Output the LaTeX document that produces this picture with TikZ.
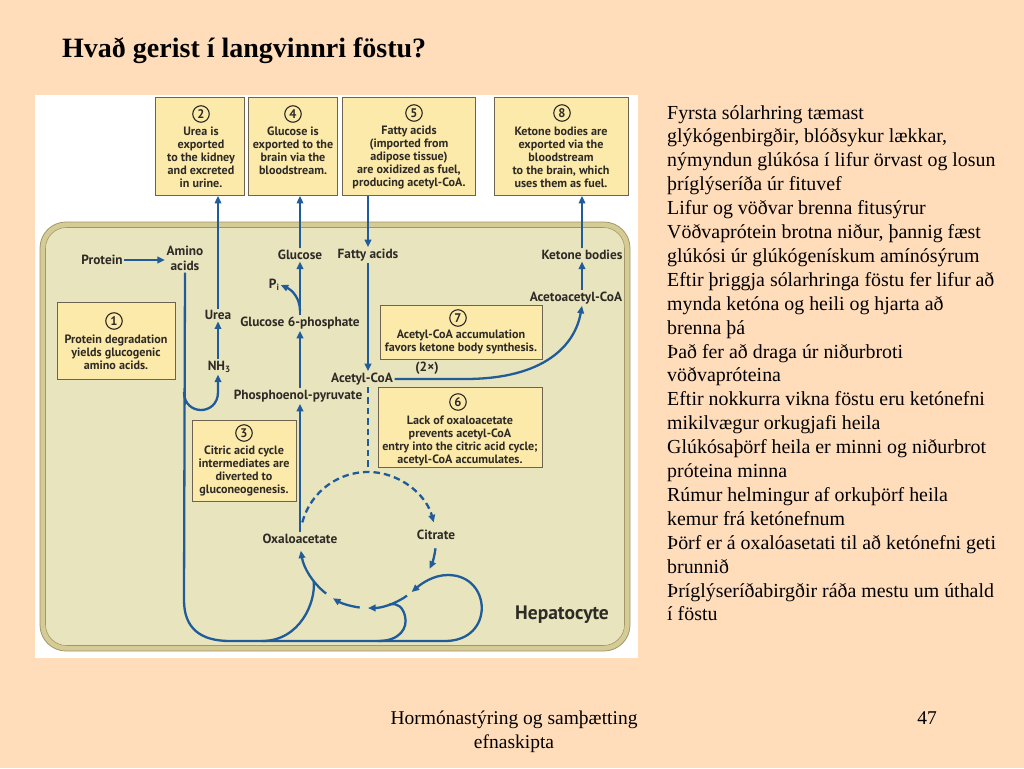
\documentclass[tikz,border=0pt]{standalone}
\usepackage{fontspec}
\setmainfont{Liberation Serif}
\newfontfamily\dfont{PT Sans}
\usetikzlibrary{arrows.meta,calc}

\definecolor{peach}{HTML}{FFDDBB}
\definecolor{cellfill}{HTML}{E8E5BE}
\definecolor{cellrim}{HTML}{D5CB95}
\definecolor{celledge}{HTML}{A3976A}
\definecolor{boxfill}{HTML}{FBEAA9}
\definecolor{boxedge}{HTML}{6E6250}
\definecolor{flow}{HTML}{1F5C99}
\definecolor{ink}{HTML}{2E2A26}

\newcommand{\mysub}[1]{\raisebox{-0.35ex}{\fontsize{9}{9}\selectfont #1}}

\tikzset{
  lbl/.style={font=\dfont\bfseries\fontsize{13.3}{15}\selectfont, text=ink, inner sep=1.5pt},
  infobox/.style={draw=boxedge, fill=boxfill, line width=0.9pt, inner sep=0pt, anchor=north west},
  boxtext/.style={font=\dfont\bfseries\fontsize{12.1}{13}\selectfont, text=ink, align=center, inner sep=0pt},
  numcirc/.style={circle, draw=ink, line width=1.1pt, minimum size=16.5pt, inner sep=0pt,
                  font=\dfont\bfseries\fontsize{12.5}{12.5}\selectfont, text=ink},
  arr/.style={draw=flow, line width=2.3pt, -{Triangle[length=7.5pt,width=6.5pt]}},
  ln/.style={draw=flow, line width=2.3pt},
  dsh/.style={draw=flow, line width=2.3pt, dash pattern=on 6.5pt off 4pt},
  rtext/.style={font=\fontsize{19.9}{23.9}\selectfont, anchor=base west, inner sep=0pt},
  foot/.style={font=\fontsize{19.5}{22}\selectfont, anchor=base, inner sep=0pt},
}

\begin{document}
\begin{tikzpicture}[x=1pt,y=-1pt]
\useasboundingbox (0,0) rectangle (1024,768);
\fill[peach] (0,0) rectangle (1024,768);

% title
\node[font=\bfseries\fontsize{28}{30}\selectfont, anchor=base west, inner sep=0pt] (title) at (62,57) {Hvað gerist í langvinnri föstu?};

% figure background
\fill[white] (34.5,94.5) rectangle (638,658);

% hepatocyte
\draw[fill=cellrim, draw=celledge, line width=0.8pt, rounded corners=26pt] (40,222) rectangle (630,651);
\draw[fill=cellfill, draw=celledge, line width=0.6pt, rounded corners=21pt] (45.5,227.5) rectangle (624.5,645.5);

% top boxes
\node[infobox, minimum width=89pt, minimum height=98pt] (b2) at (155,97) {};
\node[numcirc] (n2) at (201,114) {2};
\node[boxtext] (t2) at (201,157.5) {Urea is\\exported\\to the kidney\\and excreted\\in urine.};

\node[infobox, minimum width=89pt, minimum height=98pt] (b4) at (248,97) {};
\node[numcirc] (n4) at (293,114) {4};
\node[boxtext] (t4) at (293,151) {Glucose is\\exported to the\\brain via the\\bloodstream.};

\node[infobox, minimum width=133pt, minimum height=98pt] (b5) at (342,97) {};
\node[numcirc] (n5) at (414,113) {5};
\node[boxtext] (t5) at (409,157.5) {Fatty acids\\(imported from\\adipose tissue)\\are oxidized as fuel,\\producing acetyl-CoA.};

\node[infobox, minimum width=134pt, minimum height=98pt] (b8) at (494,97) {};
\node[numcirc] (n8) at (562,113) {8};
\node[boxtext] (t8) at (561,157.5) {Ketone bodies are\\exported via the\\bloodstream\\to the brain, which\\uses them as fuel.};

% inner boxes
\node[infobox, minimum width=118pt, minimum height=77pt] (b1) at (57,302) {};
\node[numcirc] (n1) at (114,321) {1};
\node[boxtext] (t1) at (116,352.5) {Protein degradation\\yields glucogenic\\amino acids.};

\node[infobox, minimum width=104pt, minimum height=81pt] (b3) at (192,420) {};
\node[numcirc] (n3) at (244,433) {3};
\node[boxtext] (t3) at (244,471) {Citric acid cycle\\intermediates are\\diverted to\\gluconeogenesis.};

\node[infobox, minimum width=162pt, minimum height=54pt] (b7) at (380,305) {};
\node[numcirc] (n7) at (458,318) {7};
\node[boxtext] (t7) at (461,341.5) {Acetyl-CoA accumulation\\favors ketone body synthesis.};

\node[infobox, minimum width=164pt, minimum height=80pt] (b6) at (378,387) {};
\node[numcirc] (n6) at (458,402) {6};
\node[boxtext] (t6) at (460,440.5) {Lack of oxaloacetate\\prevents acetyl-CoA\\entry into the citric acid cycle;\\acetyl-CoA accumulates.};

% labels
\node[lbl] (protein) at (102,260) {Protein};
\node[lbl, align=center] (amino) at (185,258.5) {Amino\\acids};
\node[lbl] (urea) at (218,315) {Urea};
\node[lbl] (nh3) at (219,367) {NH\mysub{3}};
\node[lbl] (glucose) at (300,255) {Glucose};
\node[lbl] (pi) at (274,285) {P\mysub{i}};
\node[lbl] (g6p) at (300,323) {Glucose 6-phosphate};
\node[lbl] (pep) at (298,396) {Phosphoenol-pyruvate};
\node[lbl] (fatty) at (368,255) {Fatty acids};
\node[lbl] (acoa) at (362,379) {Acetyl-CoA};
\node[lbl] (ketone) at (582,255) {Ketone bodies};
\node[lbl] (acac) at (576,298) {Acetoacetyl-CoA};
\node[lbl] (twox) at (427,368) {(2×)};
\node[lbl] (oaa) at (300,539) {Oxaloacetate};
\node[lbl] (cit) at (436,535) {Citrate};
\node[font=\dfont\bfseries\fontsize{19.5}{19.5}\selectfont, text=ink, inner sep=0pt] (hep) at (562,615) {Hepatocyte};

\coordinate (C) at (368,540);

% connectors
\draw[arr] (protein.east) -- (protein.east -| amino.west);
\draw[arr] (urea.north) -- (urea.north |- b2.south);
\draw[arr] (nh3.north -| urea.south) -- (urea.south);
\draw[arr] (184,392) .. controls (184,416) and (218,416) .. (218,392) -- (nh3.south -| urea.south);
\draw[arr] (glucose.north) -- (glucose.north |- b4.south);
\draw[arr] (g6p.north) -- (glucose.south);
\draw[arr] (300,311) .. controls (300,298) and (292,290) .. (pi.east);
\draw[arr] (pep.north -| g6p.south) -- (g6p.south);
\draw[arr] (oaa.north) -- (oaa.north |- pep.south);
\draw[arr] (b5.south -| fatty.north) -- (fatty.north);
\draw[arr] (fatty.south) -- (fatty.south |- acoa.north);
\draw[arr] (ketone.north) -- (ketone.north |- b8.south);
\draw[arr] (acac.north -| ketone.south) -- (ketone.south);
\draw[arr] (acoa.east) -- (465,379) .. controls (545,379) and (575,345) .. (acac.south -| ketone.south);
\draw[dsh] (acoa.south -| fatty.south) -- (368,472);

% cycle
\draw[dsh, -{Triangle[length=7.5pt,width=6.5pt]}] ($(C)+(165:68pt)$) arc[start angle=165, end angle=15, radius=68pt];
\draw[arr] ($(C)+(-7:68pt)$) arc[start angle=-7, end angle=-25, radius=68pt];
\draw[arr] ($(C)+(-55:68pt)$) arc[start angle=-55, end angle=-90, radius=68pt];
\draw[arr] ($(C)+(-97:68pt)$) arc[start angle=-97, end angle=-121, radius=68pt];
\draw[arr] ($(C)+(-128:68pt)$) arc[start angle=-128, end angle=-171, radius=68pt];

% amino acid trunk and branches
\draw[ln] (amino.south) -- (184,600) .. controls (184,628) and (200,641) .. (230,641) -- (445,641);
\draw[arr] (445,641) .. controls (495,641) and (492,575) .. (448,575) .. controls (433,575) and (421,584) .. (411.7,592);
\draw[ln] (378,641) .. controls (400,641) and (408,628) .. (405,616) .. controls (403,608) and (398,602) .. (389,604.7);
\draw[ln] (262,641) .. controls (300,641) and (316,602) .. (313.7,581);

% right text
\foreach \txt [count=\i] in {
  {Fyrsta sólarhring tæmast},
  {glýkógenbirgðir, blóðsykur lækkar,},
  {nýmyndun glúkósa í lifur örvast og losun},
  {þríglýseríða úr fituvef},
  {Lifur og vöðvar brenna fitusýrur},
  {Vöðvaprótein brotna niður, þannig fæst},
  {glúkósi úr glúkógenískum amínósýrum},
  {Eftir þriggja sólarhringa föstu fer lifur að},
  {mynda ketóna og heili og hjarta að},
  {brenna þá},
  {Það fer að draga úr niðurbroti},
  {vöðvapróteina},
  {Eftir nokkurra vikna föstu eru ketónefni},
  {mikilvægur orkugjafi heila},
  {Glúkósaþörf heila er minni og niðurbrot},
  {próteina minna},
  {Rúmur helmingur af orkuþörf heila},
  {kemur frá ketónefnum},
  {Þörf er á oxalóasetati til að ketónefni geti},
  {brunnið},
  {Þríglýseríðabirgðir ráða mestu um úthald},
  {í föstu}}
  \node[rtext] (r\i) at (667,{119+23.9*(\i-1)}) {\txt};

% footer
\node[foot] (foot1) at (514,724) {Hormónastýring og samþætting};
\node[foot] (foot2) at (514,748) {efnaskipta};
\node[foot] (page) at (927,724) {47};
\end{tikzpicture}
\end{document}
